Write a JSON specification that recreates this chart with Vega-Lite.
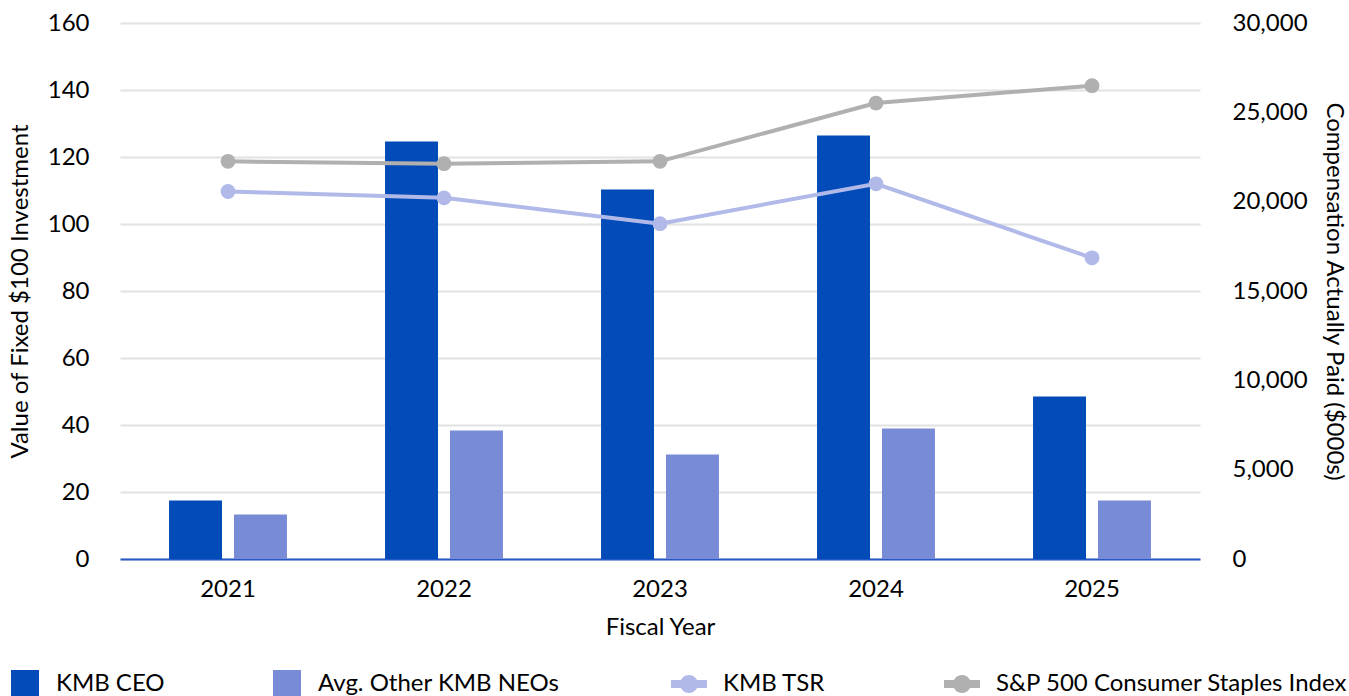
{
  "$schema": "https://vega.github.io/schema/vega-lite/v6.json",
  "width": 1080,
  "height": 536,
  "autosize": {"type": "none"},
  "padding": {"left": 120, "top": 23, "right": 149, "bottom": 137},
  "background": "white",
  "config": {
    "font": "Lato",
    "view": {"stroke": null},
    "axis": {"labelFont": "Lato", "titleFont": "Lato", "labelColor": "#000000", "titleColor": "#000000", "labelFontSize": 24, "titleFontSize": 24, "titleFontWeight": "normal", "ticks": false, "labelOverlap": false},
    "legend": {"labelFont": "Lato", "labelFontSize": 24, "labelColor": "#000000", "labelLimit": 600}
  },
  "datasets": {
    "comp": [
      {"year": "2021", "series": "KMB CEO", "value": 3280},
      {"year": "2021", "series": "Avg. Other KMB NEOs", "value": 2490},
      {"year": "2022", "series": "KMB CEO", "value": 23370},
      {"year": "2022", "series": "Avg. Other KMB NEOs", "value": 7190},
      {"year": "2023", "series": "KMB CEO", "value": 20680},
      {"year": "2023", "series": "Avg. Other KMB NEOs", "value": 5850},
      {"year": "2024", "series": "KMB CEO", "value": 23700},
      {"year": "2024", "series": "Avg. Other KMB NEOs", "value": 7300},
      {"year": "2025", "series": "KMB CEO", "value": 9100},
      {"year": "2025", "series": "Avg. Other KMB NEOs", "value": 3280}
    ],
    "tsr": [
      {"year": "2021", "series": "KMB TSR", "value": 109.7},
      {"year": "2022", "series": "KMB TSR", "value": 107.8},
      {"year": "2023", "series": "KMB TSR", "value": 100.1},
      {"year": "2024", "series": "KMB TSR", "value": 112.0},
      {"year": "2025", "series": "KMB TSR", "value": 89.9},
      {"year": "2021", "series": "S&P 500 Consumer Staples Index", "value": 118.7},
      {"year": "2022", "series": "S&P 500 Consumer Staples Index", "value": 118.0},
      {"year": "2023", "series": "S&P 500 Consumer Staples Index", "value": 118.7},
      {"year": "2024", "series": "S&P 500 Consumer Staples Index", "value": 136.1},
      {"year": "2025", "series": "S&P 500 Consumer Staples Index", "value": 141.3}
    ]
  },
  "encoding": {
    "x": {
      "field": "year", "type": "ordinal",
      "scale": {"paddingInner": 0.454, "paddingOuter": 0.227},
      "axis": {"title": "Fiscal Year", "labelAngle": 0, "labelPadding": 18, "titlePadding": 14, "domainColor": "#2458c6", "domainWidth": 2}
    }
  },
  "layer": [
    {
      "data": {"name": "comp"},
      "mark": {"type": "bar"},
      "encoding": {
        "xOffset": {"field": "series", "type": "nominal", "sort": ["KMB CEO", "Avg. Other KMB NEOs"], "scale": {"paddingInner": 0.185, "paddingOuter": 0}},
        "y": {
          "field": "value", "type": "quantitative",
          "scale": {"domain": [0, 30000], "nice": false},
          "axis": {"orient": "right", "title": "Compensation Actually Paid ($000s)", "grid": false, "domain": false, "values": [0, 5000, 10000, 15000, 20000, 25000, 30000], "labelExpr": "format(datum.value, ',')", "labelPadding": 32, "titleAngle": 90, "titleX": 133, "titleY": 268, "titleAlign": "center", "titleBaseline": "middle"}
        },
        "color": {
          "field": "series", "type": "nominal",
          "scale": {"domain": ["KMB CEO", "Avg. Other KMB NEOs"], "range": ["#034bb9", "#788bd6"]},
          "legend": {"title": null, "orient": "none", "direction": "horizontal", "legendX": -109, "legendY": 647, "symbolType": "square", "symbolSize": 784, "symbolStrokeWidth": 0, "labelOffset": 17, "columnPadding": 108}
        }
      }
    },
    {
      "data": {"name": "tsr"},
      "encoding": {
        "y": {
          "field": "value", "type": "quantitative",
          "scale": {"domain": [0, 160], "nice": false},
          "axis": {"orient": "left", "title": "Value of Fixed $100 Investment", "grid": true, "gridColor": "#e2e2e2", "gridWidth": 2, "domain": false, "values": [0, 20, 40, 60, 80, 100, 120, 140, 160], "labelPadding": 31, "titleAngle": -90, "titleX": -100, "titleY": 268, "titleAlign": "center", "titleBaseline": "middle"}
        },
        "color": {
          "field": "series", "type": "nominal",
          "scale": {"domain": ["KMB TSR", "S&P 500 Consumer Staples Index"], "range": ["#b1b9e8", "#b0b0b0"]},
          "legend": {"title": null, "orient": "none", "direction": "horizontal", "legendX": 551, "legendY": 643, "symbolType": "M-1,-0.22L-0.45,-0.22L-0.45,0.22L-1,0.22Z M0.45,-0.22L1,-0.22L1,0.22L0.45,0.22Z M-0.5,0A0.5,0.5 0 1,1 0.5,0A0.5,0.5 0 1,1 -0.5,0Z", "symbolSize": 1296, "symbolStrokeWidth": 0, "symbolOpacity": 1, "labelOffset": 16, "columnPadding": 118}
        }
      },
      "layer": [
        {"mark": {"type": "line", "strokeWidth": 4}},
        {"mark": {"type": "point", "filled": true, "opacity": 1, "size": 220}}
      ]
    }
  ],
  "resolve": {"scale": {"y": "independent", "color": "independent"}, "legend": {"color": "independent"}}
}
